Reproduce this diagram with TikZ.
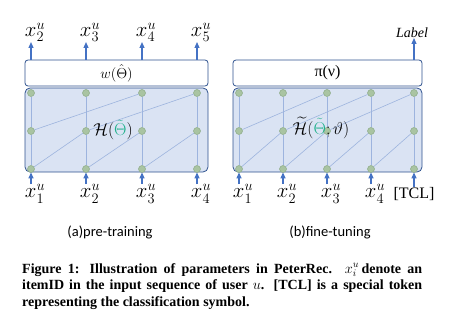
\documentclass[tikz,border=0pt]{standalone}
\usepackage[no-math]{fontspec}
\setmainfont{Liberation Serif}
\newfontfamily\handfont{Carlito}
\usepackage{amsmath}
\usetikzlibrary{arrows.meta,positioning,calc}
\definecolor{boxline}{HTML}{2F528F}
\definecolor{boxfill}{HTML}{DAE3F3}
\definecolor{wireblue}{HTML}{9DB4DE}
\definecolor{dotfill}{HTML}{A9C4A2}
\definecolor{dotline}{HTML}{8CAA86}
\definecolor{arrowblue}{HTML}{4472C4}
\definecolor{thetagreen}{HTML}{1DB08A}

\begin{document}
\begin{tikzpicture}[x=1pt, y=-1pt,
  outbox/.style={draw=boxline, fill=white, rounded corners=3pt, minimum width=183pt, minimum height=26pt, line width=0.8pt, inner sep=0pt},
  convbox/.style={draw=boxline, fill=boxfill, rounded corners=5pt, minimum width=183pt, minimum height=84pt, line width=0.8pt},
  dot/.style={circle, draw=dotline, fill=dotfill, minimum size=7pt, inner sep=0pt, line width=0.5pt},
  wire/.style={wireblue, line width=0.6pt},
  arrow/.style={-{Triangle[length=6pt,width=5pt]}, arrowblue, line width=1.2pt},
  tok/.style={font=\fontsize{20}{20}\selectfont, inner sep=0pt},
  sub/.style={font=\fontsize{14.5}{14.5}\handfont},
]
\useasboundingbox (0,0) rectangle (457,323);

% (a) pre-training
\node[outbox] (a-w) at (116.5,73) {\fontsize{15}{15}\selectfont$w(\hat{\Theta})$};
\node[convbox] (a-H) at (116.5,130) {};
\foreach \i/\x/\n in {1/31/2,2/86/3,3/142/4,4/197/5}{
  \node[dot] (a-t\i) at (\x,93) {};
  \node[dot] (a-m\i) at (\x,131) {};
  \node[dot] (a-b\i) at (\x,169) {};
  \draw[wire] (a-b\i) -- (a-m\i) -- (a-t\i);
  \node[tok, anchor=south] (a-y\i) at (\x+4,42) {$x^u_{\n}$};
  \node[tok, anchor=north] (a-x\i) at (\x+4,184) {$x^u_{\i}$};
  \draw[arrow] (a-t\i |- a-w.north) -- (a-t\i |- a-y\i.south);
  \draw[arrow] (a-b\i |- a-x\i.north) -- (a-b\i |- a-H.south);
}
\foreach \i/\j in {1/2,2/3,3/4} \draw[wire] (a-b\i) -- (a-m\j);
\foreach \i/\j in {1/3,2/4} \draw[wire] (a-m\i) -- (a-t\j);
\node[font=\fontsize{17}{17}\selectfont] (a-fn) at (113,130) {$\mathcal{H}(\textcolor{thetagreen}{\tilde{\Theta}})$};
\node[sub] (a-cap) at (110,232) {(a)pre-training};

% (b) fine-tuning
\node[outbox, minimum width=189pt] (b-w) at (327.5,73) {\fontsize{16}{16}\selectfont π(ν)};
\node[convbox, minimum width=189pt] (b-H) at (327.5,130) {};
\foreach \i/\x in {1/239,2/283,3/327,4/371,5/414}{
  \node[dot] (b-t\i) at (\x,93) {};
  \node[dot] (b-m\i) at (\x,131) {};
  \node[dot] (b-b\i) at (\x,169) {};
  \draw[wire] (b-b\i) -- (b-m\i) -- (b-t\i);
}
\foreach \i/\x in {1/239,2/283,3/327,4/371}{
  \node[tok, anchor=north] (b-x\i) at (\x+4,184) {$x^u_{\i}$};
  \draw[arrow] (b-b\i |- b-x\i.north) -- (b-b\i |- b-H.south);
}
\node[font=\fontsize{16}{16}\selectfont, anchor=north, inner sep=0pt] (b-x5) at (414,187) {[TCL]};
\draw[arrow] (b-b5 |- b-x5.north) -- (b-b5 |- b-H.south);
\foreach \i/\j in {1/2,2/3,3/4,4/5} \draw[wire] (b-b\i) -- (b-m\j);
\foreach \i/\j in {1/3,2/4,3/5} \draw[wire] (b-m\i) -- (b-t\j);
\node[font=\fontsize{17}{17}\selectfont] (b-fn) at (321,128) {$\widetilde{\mathcal{H}}(\textcolor{thetagreen}{\tilde{\Theta}};\vartheta)$};
\node[font=\fontsize{14}{14}\selectfont\itshape, anchor=south, inner sep=0pt] (b-lbl) at (412,38) {Label};
\draw[arrow] (b-t5 |- b-w.north) -- (b-t5 |- b-lbl.south);
\node[sub] (b-cap) at (330,232) {(b)fine-tuning};

% figure caption
\node[anchor=north west, inner sep=0pt, text width=400pt, align=justify, font=\fontsize{14}{16.5}\selectfont\bfseries] (caption) at (22,263)
  {Figure 1: Illustration of parameters in PeterRec. $x^u_i$\,denote an\linebreak itemID in the input sequence of user $u$. [TCL] is a special token\linebreak representing the classification symbol.};

\end{tikzpicture}
\end{document}
